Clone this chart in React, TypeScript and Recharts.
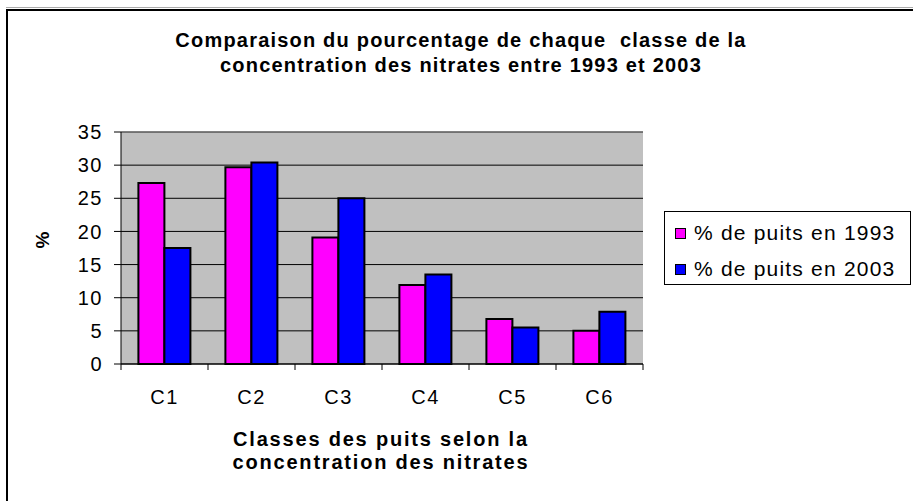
import React from 'react';
import { BarChart, Bar, XAxis, YAxis, CartesianGrid, Legend, ReferenceLine } from 'recharts';

const categories = ['C1', 'C2', 'C3', 'C4', 'C5', 'C6'];
const pct1993 = [27.3, 29.7, 19.1, 11.9, 6.8, 5.0];
const pct2003 = [17.5, 30.4, 25.0, 13.5, 5.5, 7.9];
const yTicks = [0, 5, 10, 15, 20, 25, 30, 35];
const seriesNames = ['% de puits en 1993', '% de puits en 2003'];
const seriesColors = ['#FF00FF', '#0000FF'];

const titleLines = ['Comparaison du pourcentage de chaque  classe de la', 'concentration des nitrates entre 1993 et 2003'];
const xTitleLines = ['Classes des puits selon la', 'concentration des nitrates'];
const yTitle = '%';

const data = categories.map((c, i) => ({ name: c, a: pct1993[i], b: pct2003[i] }));

const FONT = '"Liberation Sans", Arial, sans-serif';

const LegendBox = () => (
  <div
    style={{
      width: 247,
      height: 74,
      boxSizing: 'border-box',
      border: '1px solid #000',
      background: '#fff',
      fontFamily: FONT,
      fontSize: 21,
      letterSpacing: 1.2,
      color: '#000',
      paddingTop: 6,
    }}
  >
    {seriesNames.map((n, i) => (
      <div key={n} style={{ display: 'flex', alignItems: 'center', height: 30, marginBottom: i === 0 ? 6 : 0 }}>
        <div
          style={{
            width: 11,
            height: 11,
            boxSizing: 'border-box',
            border: '1px solid #000',
            background: seriesColors[i],
            marginLeft: 10,
            marginRight: 8,
          }}
        />
        <span style={{ whiteSpace: 'pre' }}>{n}</span>
      </div>
    ))}
  </div>
);

const CatTick = (props: any) => {
  const { x, y, payload, index, visibleTicksCount } = props;
  const half = payload && payload.offset ? payload.offset : 0;
  const last = index === (visibleTicksCount ?? categories.length) - 1;
  return (
    <g>
      <line x1={x - half} y1={y} x2={x - half} y2={y + 6} stroke="#000" strokeWidth={1} />
      {last && <line x1={x + half} y1={y} x2={x + half} y2={y + 6} stroke="#000" strokeWidth={1} />}
      <text
        x={x}
        y={y + 26}
        dy="0.71em"
        textAnchor="middle"
        fill="#000"
        fontSize={20}
        letterSpacing={1.5}
        fontFamily={FONT}
      >
        {payload.value}
      </text>
    </g>
  );
};

export default function App() {
  return (
    <div
      style={{
        position: 'fixed',
        left: 0,
        top: 0,
        width: 913,
        height: 501,
        background: '#fff',
        overflow: 'hidden',
        fontFamily: FONT,
      }}
    >
      <div style={{ position: 'absolute', left: 6, top: 7, width: 1000, height: 1, background: '#aaa' }} />
      <div
        style={{
          position: 'absolute',
          left: 6,
          top: 9,
          width: 1000,
          height: 1000,
          borderLeft: '2px solid #000',
          borderTop: '2px solid #000',
        }}
      />
      <div style={{ position: 'absolute', left: 0, top: 0 }}>
        <BarChart
          width={913}
          height={501}
          data={data}
          margin={{ top: 132, right: 270, bottom: 107, left: 61 }}
          barCategoryGap="20%"
          barGap={0}
        >
          <CartesianGrid vertical={false} fill="#C0C0C0" fillOpacity={1} stroke="#000" strokeWidth={1} yAxisId="left" />
          <XAxis
            dataKey="name"
            height={30}
            axisLine={{ stroke: '#000', strokeWidth: 1 }}
            tickLine={false}
            tickSize={0}
            tickMargin={0}
            tick={<CatTick />}
            interval={0}
          />
          <YAxis
            yAxisId="left"
            width={60}
            domain={[0, 35]}
            ticks={yTicks}
            interval={0}
            axisLine={{ stroke: '#000', strokeWidth: 1 }}
            tickLine={{ stroke: '#000', strokeWidth: 1 }}
            tickSize={7}
            tickMargin={11}
            tick={{ fill: '#000', fontSize: 20, fontFamily: FONT, letterSpacing: 1.5 }}
          />
          <YAxis
            yAxisId="right"
            orientation="right"
            width={0}
            domain={[0, 35]}
            tick={false}
            tickLine={false}
            axisLine={{ stroke: '#808080', strokeWidth: 1 }}
          />
          <ReferenceLine yAxisId="left" y={35} stroke="#808080" strokeWidth={1} />
          <Legend
            layout="vertical"
            align="center"
            verticalAlign="middle"
            content={() => <LegendBox />}
            wrapperStyle={{ position: 'absolute', left: 664, top: 211, width: 247, height: 74 }}
          />
          <Bar
            yAxisId="left"
            dataKey="a"
            name={seriesNames[0]}
            fill={seriesColors[0]}
            stroke="#000"
            strokeWidth={2}
            isAnimationActive={false}
          />
          <Bar
            yAxisId="left"
            dataKey="b"
            name={seriesNames[1]}
            fill={seriesColors[1]}
            stroke="#000"
            strokeWidth={2}
            isAnimationActive={false}
          />
        </BarChart>
      </div>
      <div
        style={{
          position: 'absolute',
          left: 11,
          top: 28,
          width: 900,
          textAlign: 'center',
          fontSize: 20,
          fontWeight: 'bold',
          lineHeight: '25px',
          letterSpacing: 1.2,
          color: '#000',
          whiteSpace: 'pre',
        }}
      >
        {titleLines.map((l) => (
          <div key={l}>{l}</div>
        ))}
      </div>
      <div
        style={{
          position: 'absolute',
          left: 181,
          top: 428,
          width: 400,
          textAlign: 'center',
          fontSize: 20,
          fontWeight: 'bold',
          lineHeight: '23px',
          letterSpacing: 1.8,
          color: '#000',
          whiteSpace: 'pre',
        }}
      >
        {xTitleLines.map((l) => (
          <div key={l}>{l}</div>
        ))}
      </div>
      <div
        style={{
          position: 'absolute',
          left: 42,
          top: 240,
          transform: 'translate(-50%, -50%) rotate(-90deg)',
          fontSize: 19,
          fontWeight: 'bold',
          lineHeight: '19px',
          color: '#000',
        }}
      >
        {yTitle}
      </div>
    </div>
  );
}
